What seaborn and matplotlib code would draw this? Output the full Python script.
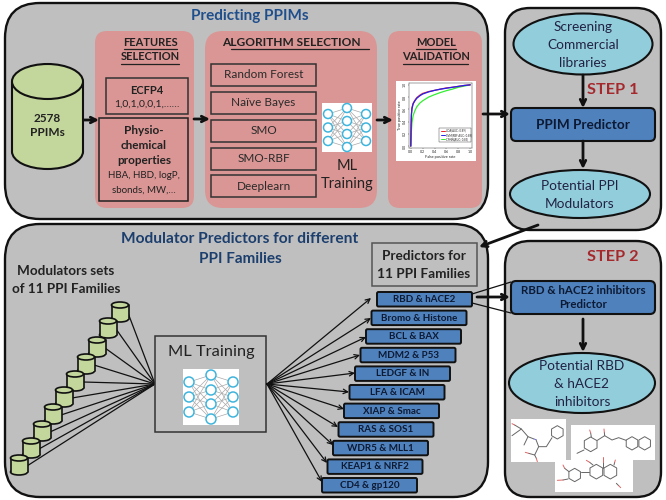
import matplotlib
matplotlib.use("Agg")
import matplotlib.pyplot as plt
import seaborn as sns
import pandas as pd
import numpy as np
from matplotlib.patches import FancyBboxPatch, Ellipse, Rectangle, RegularPolygon

sns.set_theme(style="white")
plt.rcParams['font.family'] = ['Lato', 'DejaVu Sans']

GREY = '#bfbfbf'; PINK = '#d99694'; BLUE = '#4f81bd'; CYAN = '#92cddc'; GREEN = '#c3d69b'
INK = '#111111'; NAVY = '#1f4e8c'; NAVY2 = '#1c3f6e'; RED = '#a5282d'

# ---- text content
algorithms = ['Random Forest', 'Naïve Bayes', 'SMO', 'SMO-RBF', 'Deeplearn']
families = ['RBD & hACE2', 'Bromo & Histone', 'BCL & BAX', 'MDM2 & P53', 'LEDGF & IN', 'LFA & ICAM',
            'XIAP & Smac', 'RAS & SOS1', 'WDR5 & MLL1', 'KEAP1 & NRF2', 'CD4 & gp120']
# ---- ROC inset values
fpr = [0.0, 0.005, 0.01, 0.02, 0.04, 0.07, 0.1, 0.15, 0.2, 0.3, 0.4, 0.5, 0.6, 0.7, 0.8, 0.9, 1.0]
tpr_red = [0.0, 0.35, 0.52, 0.63, 0.70, 0.75, 0.79, 0.83, 0.86, 0.89, 0.91, 0.93, 0.95, 0.96, 0.975, 0.99, 1.0]
tpr_blue = [0.0, 0.33, 0.50, 0.61, 0.69, 0.74, 0.78, 0.82, 0.85, 0.885, 0.91, 0.93, 0.945, 0.96, 0.975, 0.99, 1.0]
tpr_green = [0.0, 0.10, 0.24, 0.38, 0.50, 0.58, 0.64, 0.70, 0.74, 0.80, 0.84, 0.875, 0.905, 0.93, 0.96, 0.98, 1.0]

fig = plt.figure(figsize=(6.66, 5), dpi=100, facecolor='white')
ax = fig.add_axes([0, 0, 1, 1])
ax.set_xlim(0, 666); ax.set_ylim(500, 0); ax.axis('off')


def rbox(x0, y0, x1, y1, r=0, fc=GREY, ec=INK, lw=1.5, z=1):
    if r:
        p = FancyBboxPatch((x0, y0), x1 - x0, y1 - y0, boxstyle=f'round,pad=0,rounding_size={r}',
                           fc=fc, ec=ec, lw=lw, zorder=z)
    else:
        p = Rectangle((x0, y0), x1 - x0, y1 - y0, fc=fc, ec=ec, lw=lw, zorder=z)
    ax.add_patch(p)


def txt(x, y, s, size=10, weight='normal', color='#222222', z=6, **kw):
    ax.text(x, y, s, fontsize=size, fontweight=weight, color=color, ha='center', va='center', zorder=z, **kw)


def arrow(x0, y0, x1, y1, lw=1.0, ms=9, z=5, color='#111111'):
    ax.annotate('', xy=(x1, y1), xytext=(x0, y0), zorder=z,
                arrowprops=dict(arrowstyle='->', lw=lw, color=color, mutation_scale=ms,
                                shrinkA=0, shrinkB=0))


def ell(cx, cy, w, h, fc=CYAN, lw=1.5, z=3):
    ax.add_patch(Ellipse((cx, cy), w, h, fc=fc, ec=INK, lw=lw, zorder=z))


def cyl(x0, x1, y0, y1, eh, lw=1.5, z=3):
    cx = (x0 + x1) / 2
    w = x1 - x0
    ell(cx, y1 - eh / 2, w, eh, fc=GREEN, lw=lw, z=z)
    ax.add_patch(Rectangle((x0, y0 + eh / 2), w, y1 - y0 - eh, fc=GREEN, ec='none', zorder=z))
    ax.plot([x0, x0], [y0 + eh / 2, y1 - eh / 2], color=INK, lw=lw, zorder=z)
    ax.plot([x1, x1], [y0 + eh / 2, y1 - eh / 2], color=INK, lw=lw, zorder=z)
    ell(cx, y0 + eh / 2, w, eh, fc=GREEN, lw=lw, z=z)


def nn(xc, dx, ys3, ys4, r, bbox):
    rbox(*bbox, fc='white', ec='none', lw=0, z=3)
    cols = [(xc - dx, ys3), (xc, ys4), (xc + dx, ys3)]
    for (xa, ya), (xb, yb) in zip(cols[:-1], cols[1:]):
        for p in ya:
            for q in yb:
                ax.plot([xa, xb], [p, q], color='#a9a9a9', lw=0.5, zorder=3.5)
    for x, ys in cols:
        for y in ys:
            ax.add_patch(Ellipse((x, y), 2 * r, 2 * r, fc='white', ec='#3fb4dc', lw=1.1, zorder=4))


# ---- panels
rbox(5, 3, 488, 219, 35, lw=1.7)
rbox(505, 8, 661, 230, 25, lw=1.7)
rbox(5, 224, 488, 497, 35, lw=1.7)
rbox(505, 241, 661, 497, 25, lw=1.7)

# ---- Predicting PPIMs
txt(250, 16, 'Predicting PPIMs', 11, 'bold', NAVY)
rbox(95, 31, 194, 208, 12, fc=PINK, ec='none', lw=0, z=2)
rbox(205, 31, 377, 208, 18, fc=PINK, ec='none', lw=0, z=2)
rbox(388, 31, 482, 208, 12, fc=PINK, ec='none', lw=0, z=2)

cyl(12, 83, 64, 169, 35)
txt(47, 118, '2578', 8.5, 'bold')
txt(47, 133, 'PPIMs', 8.5, 'bold')

txt(150, 42, 'FEATURES', 8, 'bold')
txt(150, 57, 'SELECTION', 8, 'bold')
ax.plot([124, 177], [48.5, 48.5], color='#222222', lw=0.9, zorder=6)
ax.plot([121, 179], [63.5, 63.5], color='#222222', lw=0.9, zorder=6)
rbox(106, 78, 188, 114, fc=PINK, ec='#333333', lw=1.1, z=3)
txt(147, 90, 'ECFP4', 8, 'bold')
txt(147, 104, '1,0,1,0,0,1,……', 7.5)
rbox(99, 118, 188, 201, fc=PINK, ec='#222222', lw=1.1, z=3)
txt(144, 130, 'Physio-', 8.5, 'bold')
txt(144, 145.5, 'chemical', 8.5, 'bold')
txt(144, 161, 'properties', 8.5, 'bold')
txt(144, 175, 'HBA, HBD, logP,', 7)
txt(144, 190, 'sbonds, MW,…', 7)

txt(291, 42, 'ALGORITHM SELECTION', 8.6, 'bold')
ax.plot([231, 369], [48.5, 48.5], color='#222222', lw=0.9, zorder=6)
for name, y in zip(algorithms, [64, 92, 120, 148, 175]):
    rbox(211, y, 316, y + 22, fc=PINK, ec='#333333', lw=1.1, z=3)
    txt(263.5, y + 11, name, 8.5, color='#2a2a2a')
nn(347, 19, [114, 127.5, 141], [108, 121, 134, 147], 4.5, (322, 103, 372, 152))
txt(347, 166, 'ML', 10.5)
txt(347, 184, 'Training', 10.5)

txt(436, 42, 'MODEL', 8, 'bold')
txt(436, 57, 'VALIDATION', 8, 'bold')
ax.plot([416, 456], [48.5, 48.5], color='#222222', lw=0.9, zorder=6)
ax.plot([403, 468], [63.5, 63.5], color='#222222', lw=0.9, zorder=6)
rbox(396, 81, 476, 161, fc='white', ec='none', lw=0, z=3)

# ROC inset through seaborn
inset = fig.add_axes([409 / 666, 1 - 148 / 500, 63 / 666, 65 / 500], zorder=5)
roc = pd.DataFrame({'fpr': fpr * 3, 'tpr': tpr_green + tpr_red + tpr_blue,
                    'model': ['green'] * len(fpr) + ['red'] * len(fpr) + ['blue'] * len(fpr)})
sns.lineplot(data=roc, x='fpr', y='tpr', hue='model', estimator=None, sort=False, ax=inset, legend=False,
             palette={'red': '#ee2222', 'blue': '#2222ee', 'green': '#33ee33'}, lw=0.9)
inset.set_xlim(-0.03, 1.03); inset.set_ylim(-0.03, 1.03)
inset.set_xticks([0, .2, .4, .6, .8, 1]); inset.set_yticks([0, .2, .4, .6, .8, 1])
inset.tick_params(labelsize=2.6, length=1, width=0.3, pad=0.6, bottom=True, left=True)
inset.set_yticklabels(['0.0', '0.2', '0.4', '0.6', '0.8', '1.0'], rotation=90, va='center')
inset.set_xlabel('False positive rate', fontsize=2.8, labelpad=0.6)
inset.set_ylabel('True positive rate', fontsize=2.8, labelpad=0.6)
for s in inset.spines.values():
    s.set_linewidth(0.35); s.set_color('#444444'); s.set_visible(True)
inset.add_patch(Rectangle((0.48, 0.07), 0.53, 0.22, fc='white', ec='#333333', lw=0.3, zorder=6))
for lab, c, yy in zip(['LDA(AUC: 0.89)', 'SVM(RBF AUC: 0.89)', 'CPNN(AUC: 0.85)'],
                      ['#ee2222', '#2222ee', '#33ee33'], [0.25, 0.18, 0.11]):
    inset.plot([0.5, 0.58], [yy, yy], color=c, lw=0.7, zorder=7)
    inset.text(0.6, yy, lab, fontsize=2.0, va='center', color='#222222', zorder=7)

arrow(84, 120, 99, 120, lw=2, ms=10)
arrow(194, 119, 210, 119, lw=2, ms=10)
arrow(377, 120, 393, 120, lw=2, ms=10)
arrow(483, 114, 510, 114, lw=2, ms=10)

# ---- Step 1
ell(583, 44, 139, 61)
txt(583, 27, 'Screening', 9.8, color='#222244')
txt(583, 45, 'Commercial', 9.8, color='#222244')
txt(583, 63, 'libraries', 9.8, color='#222244')
arrow(583, 75, 583, 108, lw=2, ms=10)
txt(613, 90, 'STEP 1', 11.7, 'bold', RED)
rbox(511, 108, 655, 141, 5, fc=BLUE, lw=1.5, z=3)
txt(583, 125, 'PPIM Predictor', 9.8, 'bold', '#0d1a33')
arrow(583, 141, 583, 169, lw=2, ms=10)
ell(580, 194, 140, 48)
txt(580, 186, 'Potential PPI', 9.8, color='#222244')
txt(580, 203.5, 'Modulators', 9.8, color='#222244')
arrow(538, 225, 479, 247, lw=2, ms=10)

# ---- Modulator predictors
txt(240, 239, 'Modulator Predictors for different', 11.2, 'bold', NAVY2)
txt(240, 259, 'PPI Families', 11, 'bold', NAVY2)
txt(66, 271, 'Modulators sets', 9.7, 'bold')
txt(66, 289, 'of 11 PPI Families', 9.7, 'bold')

set_centres = [(120, 312), (108, 328), (97, 347), (86, 364), (75, 381), (64, 397), (53, 414), (42, 431), (31, 448), (19, 465)]
for x, y in set_centres:
    ax.plot([x + 8, 155], [y + 1, 384], color=INK, lw=0.9, zorder=2)
for x, y in set_centres:
    cyl(x - 8.5, x + 8.5, y - 10, y + 10, 6, lw=1.2, z=3)

rbox(155, 336, 266, 432, fc=GREY, ec='#333333', lw=1.1, z=3)
txt(211, 352, 'ML Training', 11.8, color='#222222')
nn(211, 22, [382, 397, 412], [375, 390, 404, 419], 5, (183, 369, 239, 425))

rbox(372, 243, 477, 286, fc=GREY, ec='#555555', lw=1.1, z=3)
txt(424, 256, 'Predictors for', 9.8, 'bold')
txt(424, 274, '11 PPI Families', 9.8, 'bold')

tips = [(371, 298), (371, 318), (366, 337), (360, 355), (355, 373), (349, 392), (344, 409), (338, 427), (333, 445), (327, 463), (322, 482)]
for t in tips:
    arrow(267, 384, t[0], t[1], lw=0.9, ms=8, z=3)
for i, name in enumerate(families):
    x0 = 377 - 5.5 * i
    y0 = 292 + 18.6 * i
    rbox(x0, y0, x0 + 95, y0 + 14.5, 1.5, fc=BLUE, lw=1.4, z=4)
    txt(x0 + 47.5, y0 + 7.5, name, 7.1, 'bold', '#0d1a33')

# ---- Step 2
txt(613, 257, 'STEP 2', 11.7, 'bold', RED)
ax.plot([472, 511], [294, 282], color=INK, lw=0.9, zorder=4)
ax.plot([472, 511], [303, 313], color=INK, lw=0.9, zorder=4)
arrow(477, 297, 510, 297, lw=2, ms=10)
rbox(511, 281, 655, 314, 5, fc=BLUE, lw=1.5, z=3)
txt(583, 290, 'RBD & hACE2 inhibitors', 8.3, 'bold', '#0d1a33')
txt(583, 305, 'Predictor', 8.3, 'bold', '#0d1a33')
arrow(583, 319, 583, 352, lw=2, ms=10)
ell(582, 383, 146, 60)
txt(582, 366, 'Potential RBD', 9.8, color='#222244')
txt(582, 384, '& hACE2', 9.8, color='#222244')
txt(582, 402, 'inhibitors', 9.8, color='#222244')

rbox(511, 419, 566, 462, fc='white', ec='none', lw=0, z=3)
rbox(571, 425, 655, 460, fc='white', ec='none', lw=0, z=3)
rbox(555, 460, 633, 492, fc='white', ec='none', lw=0, z=3)


def mx(v):
    return [508 + a / 3 for a in v]


def my(v):
    return [415 + a / 3 for a in v]


def mol(xs, ys, c='#666666'):
    ax.plot(mx(xs), my(ys), color=c, lw=0.7, zorder=4)


def ring(cx, cy, r):
    ax.add_patch(RegularPolygon((508 + cx / 3, 415 + cy / 3), 6, radius=r / 3, fc='none', ec='#666666', lw=0.7, zorder=4))


OX = '#dd6666'
for c in [(148, 52, 20), (248, 88, 22), (372, 85, 20), (410, 85, 20), (200, 180, 20), (265, 170, 22), (307, 170, 22)]:
    ring(*c)
mol([12, 40, 60, 48], [62, 42, 65, 90])
mol([40, 20], [42, 30]); mol([20, 12], [30, 26], OX)
mol([60, 78], [65, 72]); mol([78, 84], [72, 74], '#7777dd'); mol([84, 92, 115, 132], [74, 95, 95, 68])
mol([92, 80, 62], [95, 120, 115]); mol([62, 52], [115, 112], OX); mol([80, 85], [120, 130]); mol([85, 88], [130, 140], OX)
mol([207, 228], [115, 105]); mol([250, 248], [66, 54]); mol([248, 245], [54, 45], OX)
mol([268, 290, 312, 332, 354], [76, 62, 75, 68, 76]); mol([290, 289], [62, 52]); mol([289, 288], [52, 42], OX)
mol([220, 243], [172, 172]); mol([183, 170], [170, 160]); mol([170, 165], [160, 150], OX); mol([180, 165], [192, 195]); mol([165, 148], [195, 196], OX)
mol([255, 245], [150, 142]); mol([245, 235], [142, 136], OX); mol([285, 285], [160, 140]); mol([285, 285], [140, 125], OX)
mol([318, 320], [150, 142]); mol([320, 322], [142, 135], OX); mol([325, 332], [205, 212]); mol([332, 338], [212, 218], OX)

fig.savefig('out.png', dpi=100, facecolor='white')
